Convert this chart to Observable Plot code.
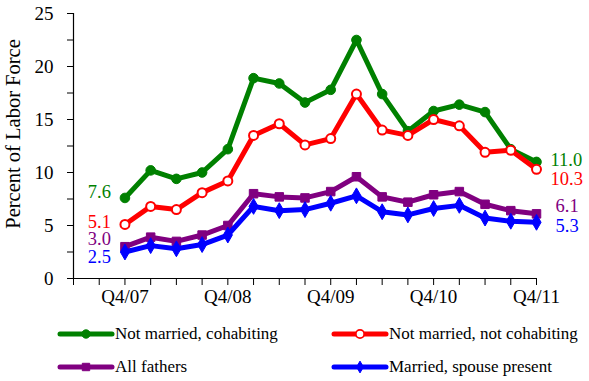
<!DOCTYPE html>
<html>
<head>
<meta charset="utf-8">
<script src="https://cdn.jsdelivr.net/npm/d3@7"></script>
<script src="https://cdn.jsdelivr.net/npm/@observablehq/plot@0.6"></script>
<style>
  body { margin: 0; background: white; }
  #wrap { width: 589px; }
  #wrap svg { display: block; }
</style>
</head>
<body>
<div id="wrap"></div>
<script>
const quarters = ["Q4/07","Q1/08","Q2/08","Q3/08","Q4/08","Q1/09","Q2/09","Q3/09","Q4/09",
                  "Q1/10","Q2/10","Q3/10","Q4/10","Q1/11","Q2/11","Q3/11","Q4/11"];
const tickLabels = ["Q4/07","Q4/08","Q4/09","Q4/10","Q4/11"];
const seriesNames = ["Not married, cohabiting","Not married, not cohabiting","All fathers","Married, spouse present"];
const cohabiting    = [7.6,10.2,9.4,10.0,12.2,18.9,18.4,16.6,17.8,22.5,17.4,13.9,15.8,16.4,15.7,12.2,11.0];
const notCohabiting = [5.1,6.8,6.5,8.1,9.2,13.5,14.6,12.6,13.2,17.4,14.0,13.5,15.0,14.4,11.9,12.1,10.3];
const allFathers    = [3.0,3.9,3.5,4.1,5.0,8.0,7.7,7.6,8.2,9.6,7.7,7.2,7.9,8.2,7.0,6.4,6.1];
const married       = [2.5,3.1,2.8,3.2,4.1,6.8,6.4,6.5,7.1,7.8,6.3,6.0,6.6,6.9,5.7,5.4,5.3];
const yTicks = [0,2.5,5,7.5,10,12.5,15,17.5,20,22.5,25];

const FONT = "'Liberation Serif', 'DejaVu Serif', serif";
const colors = ["#008000","#ff0000","#800080","#0000ff"];
const symbols = ["circle","circle","square","diamond"];
const fills = ["#008000","white","#800080","#0000ff"];
const allSeries = [cohabiting, notCohabiting, allFathers, married];
// label offsets [startDx, startDy, endDx, endDy]
const labelOffsets = [[-14,-6,14,-2],[-14,-2,14,10],[-14,-8,19,-8],[-14,5,19,4]];

const toRows = (arr) => arr.map((v, i) => ({i, v, q: quarters[i]}));

const marks = [
  Plot.ruleY([0], {stroke: "#000", strokeWidth: 1.2}),
  Plot.ruleX([-2], {stroke: "#000", strokeWidth: 1.2}),
  Plot.axisY({ticks: yTicks, tickSize: 6, tickPadding: 14, tickFormat: d => d % 5 === 0 ? String(d) : "",
              label: null, fontSize: 19, fontFamily: FONT, stroke: "#000"}),
  Plot.axisX({ticks: d3.range(-2, 17), tickSize: 7, tickPadding: 4,
              tickFormat: i => (i >= 0 && tickLabels.includes(quarters[i])) ? quarters[i] : "",
              label: null, fontSize: 19, fontFamily: FONT}),
  Plot.text(["Percent of Labor Force"], {frameAnchor: "left", rotate: -90, textAnchor: "middle",
    dx: -60, dy: -12, fontSize: 20.5, fontFamily: FONT, fill: "#000"})
];

allSeries.forEach((arr, k) => {
  const rows = toRows(arr);
  marks.push(Plot.line(rows, {x: "i", y: "v", stroke: colors[k], strokeWidth: 5, strokeLinejoin: "round"}));
  marks.push(Plot.dot(rows, {x: "i", y: "v", symbol: () => symbols[k], r: k === 1 ? 4.5 : 4.8,
    fill: fills[k], stroke: colors[k], strokeWidth: k === 1 ? 2 : 1}));
  const first = rows[0], last = rows[rows.length - 1];
  const o = labelOffsets[k];
  marks.push(Plot.text([first], {x: "i", y: "v", text: d => d.v.toFixed(1), textAnchor: "end",
    dx: o[0], dy: o[1], fill: colors[k], fontSize: 18.5, fontFamily: FONT}));
  marks.push(Plot.text([last], {x: "i", y: "v", text: d => d.v.toFixed(1), textAnchor: "start",
    dx: o[2], dy: o[3], fill: colors[k], fontSize: 18.5, fontFamily: FONT}));
});

const chart = Plot.plot({
  width: 589, height: 310,
  marginLeft: 73, marginRight: 53, marginTop: 13, marginBottom: 32,
  style: {fontFamily: FONT, fontSize: "19px", color: "#000", background: "white", overflow: "visible"},
  x: {type: "linear", domain: [-2, 16]},
  y: {domain: [0, 25]},
  marks
});
const wrap = document.getElementById("wrap");
wrap.appendChild(chart);

// legend (SVG, below the chart)
const leg = d3.create("svg").attr("width", 589).attr("height", 71)
  .style("font-family", FONT).style("background", "white");
const pos = [[59, 24], [333, 24], [59, 57], [333, 57]];
seriesNames.forEach((name, k) => {
  const g = leg.append("g").attr("transform", `translate(${pos[k][0]},${pos[k][1]})`);
  g.append("line").attr("x1", 1).attr("x2", 53).attr("y1", 0).attr("y2", 0)
    .attr("stroke", colors[k]).attr("stroke-width", 5).attr("stroke-linecap", "round");
  const sym = d3.symbol().type(symbols[k] === "circle" ? d3.symbolCircle : symbols[k] === "square" ? d3.symbolSquare : d3.symbolDiamond)
    .size(k === 3 ? 40 : 55);
  g.append("path").attr("d", sym()).attr("transform", "translate(27,0)")
    .attr("fill", fills[k]).attr("stroke", colors[k]).attr("stroke-width", k === 1 ? 1.8 : 1);
  g.append("text").attr("x", 56).attr("y", 0).attr("dy", "0.32em")
    .attr("font-family", FONT).attr("font-size", 17).attr("fill", "#000").text(name);
});
wrap.appendChild(leg.node());
</script>
</body>
</html>
